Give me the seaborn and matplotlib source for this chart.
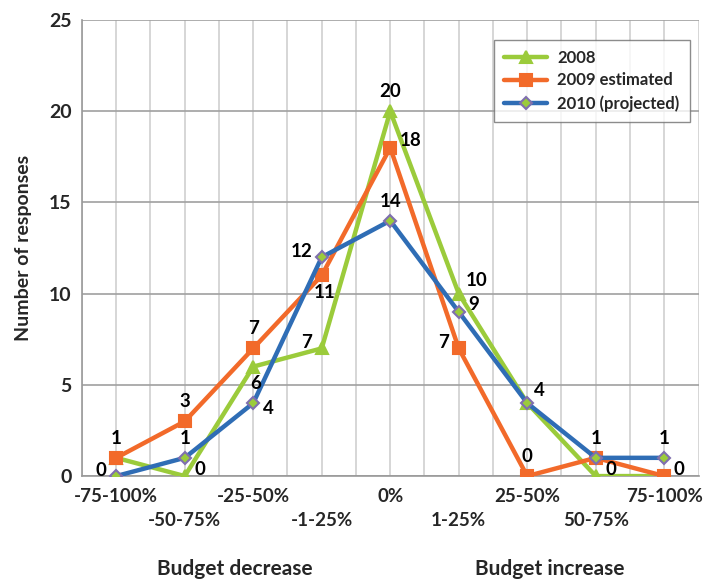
import pandas as pd
import numpy as np
import matplotlib.pyplot as plt
import seaborn as sns

# Daten
categories = ['-75-100%', '-50-75%', '-25-50%', '-1-25%', '0%',
              '1-25%', '25-50%', '50-75%', '75-100%']
series_names = ['2008', '2009 estimated', '2010 (projected)']
v2008 = [1, 0, 6, 7, 20, 10, 4, 0, 0]
v2009 = [1, 3, 7, 11, 18, 7, 0, 1, 0]
v2010 = [0, 1, 4, 12, 14, 9, 4, 1, 1]

# where each data label sits (None = hidden behind another label)
where2008 = [None, 'right', 'below', 'left', 'above', 'aboveright', None, 'right', None]
where2009 = ['above', 'above', 'above', 'below', 'right', 'left', 'above', None, 'right']
where2010 = ['left', 'above', 'rightbelow', 'left', 'above', 'right', 'aboveright', 'above', 'above']

colors = ['#9BCB3B', '#F26A2A', '#2F6DB5']
markers = ['^', 's', 'D']
m_face = ['#9BCB3B', '#F26A2A', '#9BCB3B']
m_edge = ['#9BCB3B', '#F26A2A', '#7F6FAF']
m_size = [9, 9, 6]

sns.set_style('white')
plt.rcParams['font.family'] = ['Lato', 'DejaVu Sans']
plt.rcParams['font.weight'] = 'bold'

fig = plt.figure(figsize=(7.03, 5.82), dpi=100)
ax = fig.add_axes([0.1166, 0.182, 0.877, 0.7836])

values = [v2008, v2009, v2010]
wheres = [where2008, where2009, where2010]
x = np.arange(len(categories))

for i, name in enumerate(series_names):
    df = pd.DataFrame({'x': x, 'y': values[i]})
    sns.lineplot(data=df, x='x', y='y', ax=ax, color=colors[i], lw=3.2,
                 marker=markers[i], markersize=m_size[i], markerfacecolor=m_face[i],
                 markeredgecolor=m_edge[i], markeredgewidth=1.5, label=name, zorder=3 + i)

offsets = {'above': (0, 8, 'center', 'bottom'),
           'below': (2, -6, 'center', 'top'),
           'left': (-7, 4, 'right', 'center'),
           'right': (7, 5, 'left', 'center'),
           'rightbelow': (7, -4, 'left', 'center'),
           'aboveright': (5, 3, 'left', 'bottom')}
for i in range(3):
    for xi, (v, w) in enumerate(zip(values[i], wheres[i])):
        if w is None:
            continue
        dx, dy, ha, va = offsets[w]
        ax.annotate(str(v), (xi, v), xytext=(dx, dy), textcoords='offset points',
                    ha=ha, va=va, fontsize=13.5, fontweight='bold', color='black', zorder=10)

ax.set_xlim(-0.5, len(categories) - 0.5)
ax.set_ylim(0, 25)
ax.set_yticks(range(0, 26, 5))
ax.set_xticks(np.arange(-0.5, len(categories), 1))
ax.set_xticklabels([''] * (len(categories) + 1))
ax.set_xticks(x, minor=True)
ax.set_xticklabels([''] * len(categories), minor=True)
# category labels in two staggered rows
for k, c in enumerate(categories):
    ax.annotate(c, (k, 0), xycoords=('data', 'axes fraction'),
                xytext=(0, -15 if k % 2 == 0 else -32), textcoords='offset points',
                ha='center', va='center', fontsize=13.5, fontweight='bold')
ax.tick_params(axis='x', which='major', length=5, color='#999999', direction='out')
ax.tick_params(axis='x', which='minor', length=0)
ax.tick_params(axis='y', length=4, color='#999999', direction='out', labelsize=14)
for t in ax.get_yticklabels():
    t.set_fontweight('bold')

ax.grid(True, which='both', axis='x', color='#D0D0D0', lw=1.2)
ax.grid(True, which='major', axis='y', color='#A0A0A0', lw=1.2)
ax.set_axisbelow(True)
for s in ['top', 'right']:
    ax.spines[s].set_visible(False)
for s in ['left', 'bottom']:
    ax.spines[s].set_color('#999999')
    ax.spines[s].set_linewidth(1.2)

ax.set_xlabel('')
ax.set_ylabel('Number of responses', fontsize=14, fontweight='bold', labelpad=12)
fig.text(235 / 703, 1 - 569 / 582, 'Budget decrease', ha='center', va='center',
         fontsize=15, fontweight='bold')
fig.text(550 / 703, 1 - 569 / 582, 'Budget increase', ha='center', va='center',
         fontsize=15, fontweight='bold')

leg = ax.legend(loc='upper left', bbox_to_anchor=(0.655, 0.975), frameon=True,
                fancybox=False, edgecolor='#707070', fontsize=12, handlelength=2.6,
                borderpad=0.6, labelspacing=0.4, handletextpad=0.6)
leg.get_frame().set_linewidth(1.0)
for t in leg.get_texts():
    t.set_fontweight('bold')

fig.savefig('out.png', dpi=100)
